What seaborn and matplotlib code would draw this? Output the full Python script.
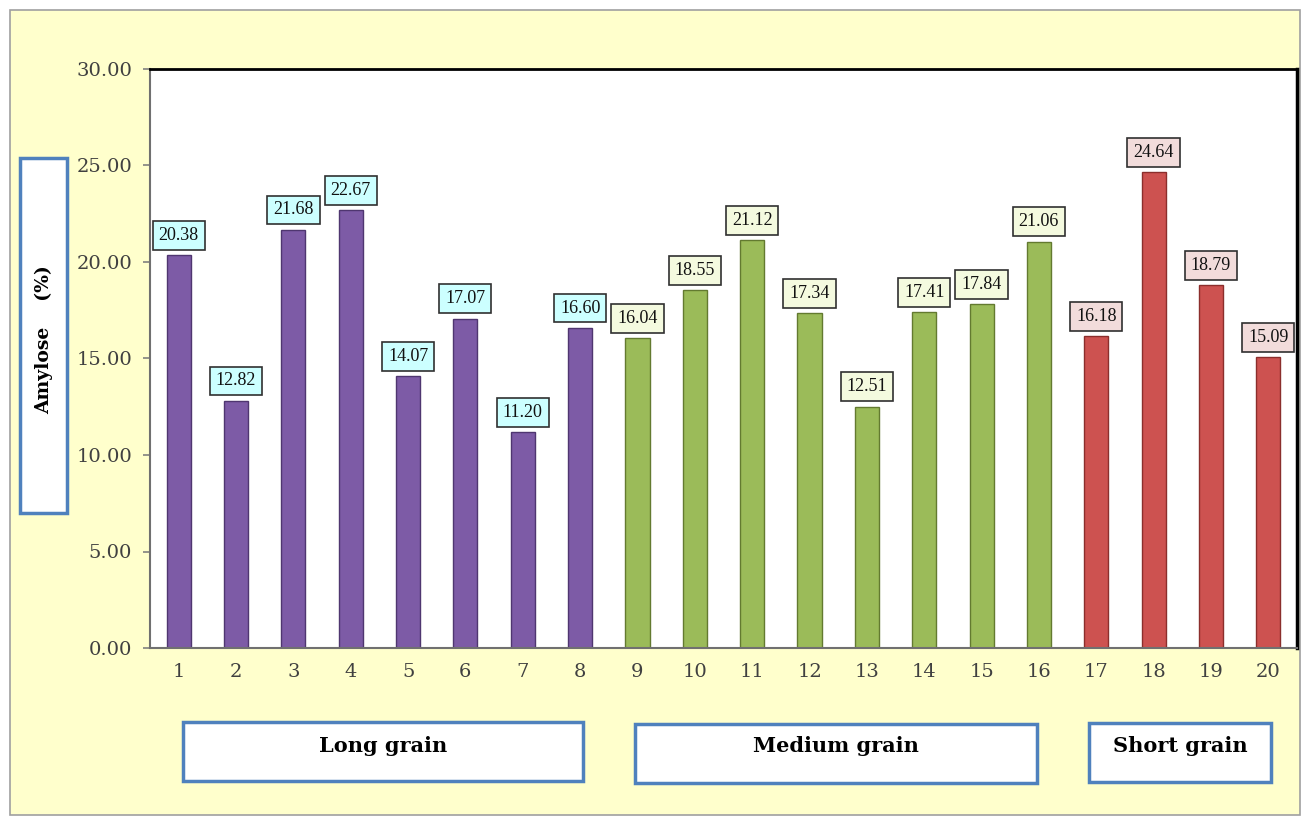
import numpy as np
import pandas as pd
import matplotlib
matplotlib.use("Agg")
import matplotlib.pyplot as plt
from matplotlib.patches import Rectangle
import seaborn as sns

# amylose content per genotype
genotypes = [str(i) for i in range(1, 21)]
amylose = [20.38, 12.82, 21.68, 22.67, 14.07, 17.07, 11.20, 16.60,
           16.04, 18.55, 21.12, 17.34, 12.51, 17.41, 17.84, 21.06,
           16.18, 24.64, 18.79, 15.09]
grain = ["Long grain"] * 8 + ["Medium grain"] * 8 + ["Short grain"] * 4
group_names = ["Long grain", "Medium grain", "Short grain"]
y_ticks = [0, 5, 10, 15, 20, 25, 30]

bar_colors = {"Long grain": "#7D5BA6", "Medium grain": "#9BBB59", "Short grain": "#CD5250"}
edge_colors = {"Long grain": "#4F3670", "Medium grain": "#637A30", "Short grain": "#8B2E2C"}
label_bg = {"Long grain": "#CCFFFF", "Medium grain": "#F4FADF", "Short grain": "#F2DCDB"}

df = pd.DataFrame({"genotype": genotypes, "amylose": amylose, "grain": grain})

sns.set_style("white")
plt.rcParams["font.family"] = ["DejaVu Serif"]

fig = plt.figure(figsize=(13.04, 8.19), dpi=100)
fig.patch.set_facecolor("white")

# yellow chart area with grey frame
W, H = 1304, 819
def fx(px):
    return px / W
def fy(py):
    return 1 - py / H

fig.patches.append(Rectangle((fx(10), fy(815)), fx(1290), 805 / H, transform=fig.transFigure,
                             facecolor="#FFFFCC", edgecolor="#A0A0A0", lw=1.2, zorder=-10))

ax = fig.add_axes([fx(150), fy(648), fx(1297 - 150), (648 - 69) / H])
ax.set_facecolor("white")

sns.barplot(data=df, x="genotype", y="amylose", hue="grain", palette=bar_colors,
            dodge=False, width=0.42, legend=False, ax=ax, saturation=1)

for bar_patch, g in zip(ax.patches, grain):
    bar_patch.set_edgecolor(edge_colors[g])
    bar_patch.set_linewidth(1.0)

for i, (v, g) in enumerate(zip(amylose, grain)):
    ax.annotate(f"{v:.2f}", xy=(i, v), xytext=(0, 8), textcoords="offset points",
                ha="center", va="bottom", fontsize=13, family="Liberation Serif",
                color="#111111",
                bbox=dict(boxstyle="square,pad=0.33", facecolor=label_bg[g],
                          edgecolor="#303030", lw=1.2))

ax.set_ylim(0, 30)
ax.set_xlim(-0.5, 19.5)
ax.set_yticks(y_ticks)
ax.set_yticklabels([f"{t:.2f}" for t in y_ticks], fontsize=14, color="#404040")
ax.set_xticks(range(20))
ax.set_xticklabels(genotypes, fontsize=14, color="#404040")
ax.set_xticks(np.arange(-0.5, 20, 1), minor=True)
ax.tick_params(axis="x", which="major", length=0, pad=11)
ax.tick_params(axis="x", which="minor", length=5, color="#808080", width=1.2, direction="out")
ax.tick_params(axis="y", length=5, color="#808080", width=1.2, direction="out", left=True, pad=8)
ax.set_xlabel("")
ax.set_ylabel("")

ax.spines["left"].set_color("#707070")
ax.spines["left"].set_linewidth(1.5)
ax.spines["bottom"].set_color("#707070")
ax.spines["bottom"].set_linewidth(1.5)
ax.spines["top"].set_color("black")
ax.spines["top"].set_linewidth(2)
ax.spines["right"].set_color("black")
ax.spines["right"].set_linewidth(2.5)

# y-axis title box
fig.patches.append(Rectangle((fx(20), fy(513)), fx(47), (513 - 158) / H, transform=fig.transFigure,
                             facecolor="white", edgecolor="#4F81BD", lw=2.5))
fig.text(fx(44), fy(340), "Amylose    (%)", rotation=90, ha="center", va="center",
         fontsize=13.5, fontweight="bold", color="black")

# grain group boxes
group_boxes = [(183, 583, 722, 781), (635, 1037, 724, 783), (1089, 1271, 723, 782)]
for name, (x0, x1, y0, y1) in zip(group_names, group_boxes):
    fig.patches.append(Rectangle((fx(x0), fy(y1)), fx(x1 - x0), (y1 - y0) / H,
                                 transform=fig.transFigure, facecolor="white",
                                 edgecolor="#4F81BD", lw=2.5))
    fig.text(fx((x0 + x1) / 2), fy(746), name, ha="center", va="center",
             fontsize=15, fontweight="bold", color="black")

fig.savefig("out.png", dpi=100)
